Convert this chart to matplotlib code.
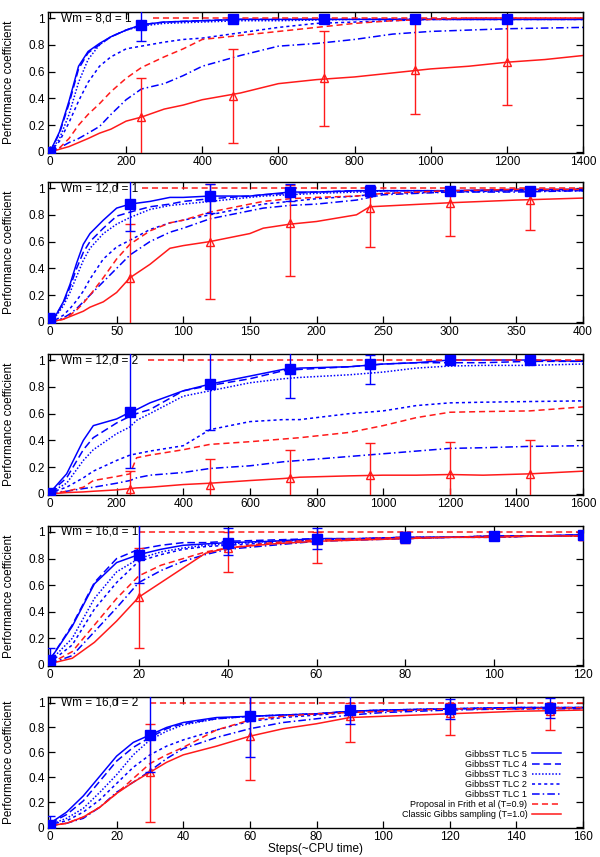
import matplotlib
matplotlib.use("Agg")
import matplotlib.pyplot as plt
from matplotlib.transforms import blended_transform_factory

plt.rcParams['font.family'] = ['Liberation Sans', 'DejaVu Sans']

BLUE = '#0000ff'
RED = '#ff1a1a'

series_names = ['GibbsST TLC 5', 'GibbsST TLC 4', 'GibbsST TLC 3', 'GibbsST TLC 2',
                'GibbsST TLC 1', 'Proposal in Frith et al (T=0.9)',
                'Classic Gibbs sampling (T=1.0)']
panel_titles = ['Wm = 8,d = 1', 'Wm = 12,d = 1', 'Wm = 12,d = 2',
                'Wm = 16,d = 1', 'Wm = 16,d = 2']
x_max = [1400, 400, 1600, 120, 160]
x_ticks = [[0, 200, 400, 600, 800, 1000, 1200, 1400],
           [0, 50, 100, 150, 200, 250, 300, 350, 400],
           [0, 200, 400, 600, 800, 1000, 1200, 1400, 1600],
           [0, 20, 40, 60, 80, 100, 120],
           [0, 20, 40, 60, 80, 100, 120, 140, 160]]
y_ticks = [0, 0.2, 0.4, 0.6, 0.8, 1.0]
y_tick_labels = ['0', '0.2', '0.4', '0.6', '0.8', '1']
ref_start = [270, 69, 294, 20, 30]   # red dashed line at 1 starts here

# ---- panel 1: Wm = 8, d = 1
x1 = [0, 25, 50, 75, 100, 130, 160, 200, 240, 300, 350, 400, 500, 600, 700, 800,
      900, 1000, 1100, 1200, 1300, 1400]
tlc5_1 = [0, 0.15, 0.38, 0.64, 0.75, 0.81, 0.86, 0.91, 0.95, 0.97, 0.975, 0.98, 0.99,
          0.99, 0.99, 0.99, 0.99, 0.99, 0.99, 0.99, 0.99, 0.99]
tlc4_1 = [0, 0.14, 0.36, 0.62, 0.74, 0.80, 0.86, 0.91, 0.95, 0.97, 0.975, 0.98, 0.99,
          0.99, 0.99, 0.99, 0.99, 0.99, 0.99, 0.99, 0.99, 0.99]
tlc3_1 = [0, 0.10, 0.28, 0.52, 0.69, 0.80, 0.86, 0.91, 0.94, 0.96, 0.965, 0.97, 0.98,
          0.98, 0.985, 0.99, 0.99, 0.99, 0.99, 0.99, 0.99, 0.99]
tlc2_1 = [0, 0.08, 0.22, 0.38, 0.52, 0.64, 0.71, 0.77, 0.79, 0.82, 0.84, 0.85, 0.89,
          0.93, 0.96, 0.97, 0.98, 0.99, 0.99, 0.99, 0.99, 0.99]
prop_1 = [0, 0.03, 0.10, 0.20, 0.28, 0.36, 0.45, 0.55, 0.63, 0.71, 0.77, 0.84, 0.87,
          0.90, 0.93, 0.96, 0.98, 0.99, 1.0, 1.0, 1.0, 1.0]
tlc1_1 = [0, 0.03, 0.07, 0.10, 0.14, 0.19, 0.28, 0.39, 0.47, 0.51, 0.57, 0.64, 0.72,
          0.79, 0.81, 0.84, 0.88, 0.90, 0.91, 0.92, 0.925, 0.93]
gibbs_1 = [0, 0.02, 0.04, 0.07, 0.10, 0.14, 0.17, 0.23, 0.26, 0.32, 0.35, 0.39, 0.44,
           0.51, 0.54, 0.56, 0.59, 0.62, 0.64, 0.67, 0.69, 0.72]
bx1 = [0, 240, 480, 720, 960, 1200]
by1 = [0, 0.95, 0.99, 0.99, 0.99, 0.99]
blo1 = [-0.05, 0.83, 0.97, 0.97, 0.96, 0.97]
bhi1 = [0.01, 1.10, 1.01, 1.01, 1.01, 1.01]
rx1 = [240, 480, 720, 960, 1200]
ry1 = [0.26, 0.42, 0.55, 0.61, 0.67]
rlo1 = [-0.05, 0.07, 0.19, 0.28, 0.35]
rhi1 = [0.55, 0.77, 0.90, 0.97, 1.0]

# ---- panel 2: Wm = 12, d = 1
x2 = [0, 5, 10, 15, 20, 25, 30, 40, 50, 60, 75, 90, 100, 120, 150, 160, 180, 200,
      230, 240, 250, 300, 350, 400]
tlc5_2 = [0.02, 0.06, 0.15, 0.28, 0.44, 0.58, 0.66, 0.76, 0.85, 0.88, 0.90, 0.93, 0.93,
          0.94, 0.94, 0.95, 0.97, 0.97, 0.98, 0.98, 0.98, 0.98, 0.99, 0.99]
tlc4_2 = [0.02, 0.06, 0.14, 0.26, 0.40, 0.52, 0.60, 0.70, 0.79, 0.82, 0.86, 0.88, 0.90,
          0.92, 0.94, 0.95, 0.96, 0.97, 0.98, 0.98, 0.98, 0.98, 0.98, 0.99]
tlc3_2 = [0.02, 0.05, 0.12, 0.22, 0.34, 0.46, 0.55, 0.66, 0.73, 0.78, 0.84, 0.87, 0.88,
          0.90, 0.93, 0.94, 0.95, 0.96, 0.97, 0.97, 0.98, 0.98, 0.98, 0.98]
tlc2_2 = [0.01, 0.02, 0.05, 0.10, 0.16, 0.23, 0.32, 0.47, 0.56, 0.61, 0.69, 0.74, 0.76,
          0.80, 0.86, 0.88, 0.90, 0.92, 0.94, 0.95, 0.96, 0.97, 0.98, 0.98]
prop_2 = [0, 0.01, 0.02, 0.05, 0.09, 0.14, 0.20, 0.33, 0.47, 0.58, 0.68, 0.74, 0.76,
          0.82, 0.88, 0.90, 0.92, 0.93, 0.94, 0.95, 0.96, 0.98, 0.99, 0.99]
tlc1_2 = [0.01, 0.01, 0.03, 0.06, 0.10, 0.15, 0.20, 0.30, 0.40, 0.50, 0.60, 0.67, 0.70,
          0.77, 0.83, 0.85, 0.87, 0.88, 0.91, 0.93, 0.95, 0.97, 0.97, 0.98]
gibbs_2 = [0, 0.01, 0.02, 0.04, 0.06, 0.08, 0.11, 0.15, 0.22, 0.33, 0.43, 0.55, 0.57,
           0.60, 0.66, 0.70, 0.73, 0.75, 0.80, 0.86, 0.865, 0.89, 0.91, 0.925]
bx2 = [0, 60, 120, 180, 240, 300, 360]
by2 = [0.02, 0.88, 0.94, 0.97, 0.98, 0.98, 0.98]
blo2 = [-0.05, 0.68, 0.81, 0.90, 0.95, 0.96, 0.96]
bhi2 = [0.07, 1.10, 1.03, 1.03, 1.02, 1.01, 1.01]
rx2 = [60, 120, 180, 240, 300, 360]
ry2 = [0.33, 0.60, 0.74, 0.85, 0.89, 0.91]
rlo2 = [-0.05, 0.17, 0.34, 0.56, 0.64, 0.69]
rhi2 = [0.73, 1.03, 1.02, 1.0, 1.0, 1.0]

# ---- panel 3: Wm = 12, d = 2
x3 = [0, 50, 100, 130, 200, 240, 260, 300, 400, 480, 600, 700, 750, 900, 1000, 1100,
      1200, 1300, 1440, 1600]
tlc5_3 = [0.01, 0.15, 0.40, 0.51, 0.56, 0.61, 0.63, 0.68, 0.77, 0.82, 0.88, 0.93, 0.94,
          0.95, 0.97, 0.98, 1.0, 1.0, 1.0, 0.99]
tlc4_3 = [0.01, 0.12, 0.33, 0.42, 0.53, 0.58, 0.60, 0.63, 0.77, 0.81, 0.86, 0.92, 0.93,
          0.95, 0.97, 0.98, 0.98, 0.98, 0.99, 0.99]
tlc3_3 = [0.01, 0.08, 0.25, 0.33, 0.45, 0.50, 0.55, 0.60, 0.73, 0.77, 0.83, 0.86, 0.87,
          0.89, 0.91, 0.94, 0.955, 0.96, 0.96, 0.97]
tlc2_3 = [0.01, 0.05, 0.12, 0.17, 0.25, 0.29, 0.30, 0.32, 0.36, 0.48, 0.54, 0.555, 0.555,
          0.60, 0.62, 0.66, 0.68, 0.685, 0.69, 0.695]
prop_3 = [0, 0.02, 0.05, 0.10, 0.13, 0.15, 0.27, 0.29, 0.33, 0.37, 0.39, 0.41, 0.42,
          0.46, 0.51, 0.57, 0.61, 0.615, 0.62, 0.65]
tlc1_3 = [0.01, 0.02, 0.04, 0.05, 0.08, 0.10, 0.12, 0.14, 0.16, 0.19, 0.21, 0.24, 0.25,
          0.28, 0.30, 0.32, 0.34, 0.345, 0.355, 0.36]
gibbs_3 = [0, 0.01, 0.015, 0.02, 0.03, 0.04, 0.045, 0.05, 0.07, 0.08, 0.10, 0.115, 0.125,
           0.135, 0.14, 0.14, 0.145, 0.14, 0.15, 0.17]
bx3 = [0, 240, 480, 720, 960, 1200, 1440]
by3 = [0.01, 0.61, 0.82, 0.93, 0.97, 1.0, 1.0]
blo3 = [-0.05, 0.19, 0.48, 0.72, 0.82, 0.99, 0.99]
bhi3 = [0.02, 1.10, 1.10, 1.10, 1.04, 1.01, 1.01]
rx3 = [240, 480, 720, 960, 1200, 1440]
ry3 = [0.04, 0.07, 0.12, 0.14, 0.15, 0.15]
rlo3 = [-0.05, -0.05, -0.05, -0.05, -0.05, -0.05]
rhi3 = [0.17, 0.26, 0.33, 0.38, 0.39, 0.40]

# ---- panel 4: Wm = 16, d = 1
x4 = [0, 5, 10, 15, 20, 25, 30, 35, 40, 50, 60, 70, 80, 90, 100, 110, 120]
tlc5_4 = [0.04, 0.29, 0.61, 0.77, 0.83, 0.87, 0.90, 0.91, 0.92, 0.93, 0.95, 0.95, 0.96,
          0.96, 0.97, 0.97, 0.98]
tlc4_4 = [0.04, 0.30, 0.62, 0.80, 0.87, 0.90, 0.92, 0.92, 0.93, 0.94, 0.95, 0.95, 0.96,
          0.96, 0.97, 0.97, 0.98]
tlc3_4 = [0.03, 0.20, 0.50, 0.70, 0.80, 0.85, 0.88, 0.90, 0.91, 0.93, 0.94, 0.95, 0.96,
          0.96, 0.97, 0.97, 0.97]
tlc2_4 = [0.02, 0.15, 0.42, 0.62, 0.78, 0.83, 0.87, 0.89, 0.90, 0.92, 0.94, 0.95, 0.95,
          0.96, 0.96, 0.97, 0.97]
prop_4 = [0.01, 0.10, 0.30, 0.50, 0.67, 0.75, 0.80, 0.85, 0.88, 0.92, 0.94, 0.95, 0.96,
          0.96, 0.97, 0.97, 0.97]
tlc1_4 = [0.01, 0.07, 0.25, 0.43, 0.62, 0.71, 0.78, 0.83, 0.87, 0.90, 0.93, 0.94, 0.95,
          0.96, 0.96, 0.97, 0.97]
gibbs_4 = [0.01, 0.05, 0.17, 0.33, 0.51, 0.62, 0.73, 0.84, 0.88, 0.91, 0.93, 0.94, 0.95,
           0.96, 0.96, 0.97, 0.97]
bx4 = [0, 20, 40, 60, 80, 100, 120]
by4 = [0.04, 0.83, 0.92, 0.95, 0.96, 0.97, 0.98]
blo4 = [-0.05, 0.62, 0.83, 0.87, 0.92, 0.94, 0.95]
bhi4 = [0.13, 1.10, 1.03, 1.03, 1.0, 1.0, 1.0]
rx4 = [20, 40, 60, 80, 100, 120]
ry4 = [0.51, 0.88, 0.94, 0.96, 0.97, 0.97]
rlo4 = [0.13, 0.70, 0.77, 0.92, 0.94, 0.94]
rhi4 = [0.88, 1.0, 1.0, 1.0, 1.0, 1.0]

# ---- panel 5: Wm = 16, d = 2
x5 = [0, 5, 10, 15, 20, 25, 30, 35, 40, 50, 60, 70, 80, 90, 100, 120, 140, 160]
tlc5_5 = [0.03, 0.12, 0.25, 0.41, 0.57, 0.68, 0.74, 0.80, 0.84, 0.88, 0.89, 0.90, 0.91,
          0.93, 0.94, 0.95, 0.96, 0.96]
tlc4_5 = [0.03, 0.10, 0.21, 0.37, 0.53, 0.64, 0.72, 0.79, 0.83, 0.87, 0.89, 0.90, 0.91,
          0.93, 0.94, 0.95, 0.96, 0.96]
tlc3_5 = [0.02, 0.07, 0.15, 0.28, 0.42, 0.58, 0.70, 0.77, 0.82, 0.87, 0.89, 0.90, 0.91,
          0.93, 0.94, 0.95, 0.96, 0.96]
tlc2_5 = [0.02, 0.05, 0.12, 0.22, 0.35, 0.48, 0.58, 0.65, 0.70, 0.78, 0.85, 0.88, 0.90,
          0.92, 0.93, 0.95, 0.95, 0.96]
prop_5 = [0.01, 0.03, 0.08, 0.16, 0.27, 0.39, 0.51, 0.58, 0.64, 0.78, 0.86, 0.89, 0.91,
          0.92, 0.93, 0.95, 0.95, 0.96]
tlc1_5 = [0.01, 0.03, 0.07, 0.16, 0.28, 0.36, 0.45, 0.55, 0.63, 0.72, 0.79, 0.84, 0.87,
          0.90, 0.92, 0.94, 0.95, 0.95]
gibbs_5 = [0.01, 0.03, 0.08, 0.16, 0.27, 0.36, 0.44, 0.52, 0.58, 0.65, 0.73, 0.79, 0.83,
           0.88, 0.89, 0.91, 0.93, 0.94]
bx5 = [0, 30, 60, 90, 120, 150]
by5 = [0.02, 0.74, 0.89, 0.94, 0.95, 0.96]
blo5 = [-0.05, 0.44, 0.56, 0.83, 0.87, 0.88]
bhi5 = [0.09, 1.10, 1.10, 1.05, 1.03, 1.04]
rx5 = [30, 60, 90, 120, 150]
ry5 = [0.44, 0.73, 0.89, 0.92, 0.93]
rlo5 = [0.04, 0.38, 0.68, 0.74, 0.78]
rhi5 = [0.83, 1.10, 1.0, 1.0, 1.0]

panels = [
    (x1, [tlc5_1, tlc4_1, tlc3_1, tlc2_1, tlc1_1, prop_1, gibbs_1],
     (bx1, by1, blo1, bhi1), (rx1, ry1, rlo1, rhi1)),
    (x2, [tlc5_2, tlc4_2, tlc3_2, tlc2_2, tlc1_2, prop_2, gibbs_2],
     (bx2, by2, blo2, bhi2), (rx2, ry2, rlo2, rhi2)),
    (x3, [tlc5_3, tlc4_3, tlc3_3, tlc2_3, tlc1_3, prop_3, gibbs_3],
     (bx3, by3, blo3, bhi3), (rx3, ry3, rlo3, rhi3)),
    (x4, [tlc5_4, tlc4_4, tlc3_4, tlc2_4, tlc1_4, prop_4, gibbs_4],
     (bx4, by4, blo4, bhi4), (rx4, ry4, rlo4, rhi4)),
    (x5, [tlc5_5, tlc4_5, tlc3_5, tlc2_5, tlc1_5, prop_5, gibbs_5],
     (bx5, by5, blo5, bhi5), (rx5, ry5, rlo5, rhi5)),
]

# line styles for the 7 series (same order as series_names)
styles = [
    dict(color=BLUE, linestyle='-'),
    dict(color=BLUE, linestyle=(0, (5, 2.5))),
    dict(color=BLUE, linestyle=(0, (1, 1.2))),
    dict(color=BLUE, linestyle=(0, (2, 2))),
    dict(color=BLUE, linestyle=(0, (5, 2, 1, 2))),
    dict(color=RED, linestyle=(0, (4, 2.5))),
    dict(color=RED, linestyle='-'),
]

# axes boxes in pixels (top, bottom) of a 600x857 figure
boxes = [(12, 153), (182, 323), (354, 495), (526, 666), (697, 828)]
W, H = 600, 857
left_px, right_px = 48, 583

fig = plt.figure(figsize=(6.0, 8.57), dpi=100)

for i, (xs, ys, blue, red) in enumerate(panels):
    top, bot = boxes[i]
    ax = fig.add_axes([left_px / W, 1 - bot / H, (right_px - left_px) / W, (bot - top) / H])
    handles = []
    for y, st, name in zip(ys, styles, series_names):
        h, = ax.plot(xs, y, lw=1.1, label=name, **st)
        handles.append(h)

    # reference line at 1
    ax.plot([ref_start[i], x_max[i]], [1.0, 1.0], color=RED, lw=1.1,
            linestyle=(0, (4, 2.5)))

    bxs, bys, blo, bhi = blue
    ax.errorbar(bxs, bys, yerr=[[y - l for y, l in zip(bys, blo)],
                                [h_ - y for y, h_ in zip(bys, bhi)]],
                fmt='s', color=BLUE, ms=7, elinewidth=1.0, capsize=3.5,
                capthick=1.0, zorder=5)
    rxs, rys, rlo, rhi = red
    ax.errorbar(rxs, rys, yerr=[[y - l for y, l in zip(rys, rlo)],
                                [h_ - y for y, h_ in zip(rys, rhi)]],
                fmt='^', color=RED, mfc='none', mec=RED, ms=6, mew=1.0,
                elinewidth=1.0, capsize=3.5, capthick=1.0, zorder=4)

    span = x_max[i]
    ax.set_xlim(-span * 2 / 533, span)
    ax.set_ylim(-0.008, 1.045)
    ax.set_xticks(x_ticks[i])
    ax.set_yticks(y_ticks)
    ax.set_yticklabels(y_tick_labels)
    ax.tick_params(direction='in', length=5, width=0.9, labelsize=8.5,
                   top=True, right=True, pad=2.5)
    for sp in ax.spines.values():
        sp.set_linewidth(1.0)
    ax.set_ylabel('Performance coefficient', fontsize=8.5)
    ax.yaxis.set_label_coords(-0.061, 0.5)

    tr = blended_transform_factory(ax.transAxes, ax.transData)
    ax.text(0.024, 1.0, panel_titles[i], transform=tr, fontsize=8.5,
            va='center', ha='left')

    if i == 4:
        ax.set_xlabel('Steps(~CPU time)', fontsize=8.5, labelpad=0)
        ax.legend(handles, series_names, loc='lower right',
                  bbox_to_anchor=(0.965, 0.04), frameon=False, markerfirst=False,
                  fontsize=6.5, handlelength=3.2, labelspacing=0.12,
                  handletextpad=0.5, borderaxespad=0)

fig.savefig('out.png', dpi=100)
